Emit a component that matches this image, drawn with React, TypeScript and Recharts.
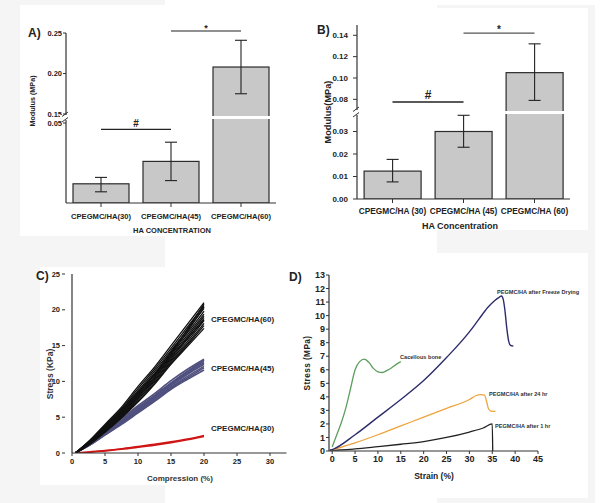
import React from 'react';
import { BarChart, Bar, XAxis, YAxis, ErrorBar, ReferenceLine, LineChart, Line } from 'recharts';

const FONT = "'Liberation Sans', Arial, Helvetica, sans-serif";
const INK = '#222';
const AXIS = '#333';

// ---------------- Panel A (Modulus, broken axis)
const catsA = ['CPEGMC/HA(30)', 'CPEGMC/HA(45)', 'CPEGMC/HA(60)'];
const meanA = [0.012, 0.026, 0.208];
const errLowA = [0.007, 0.014, 0.175];
const errHighA = [0.016, 0.038, 0.241];
const ticksA = [0.05, 0.15, 0.2, 0.25];

// ---------------- Panel B (Modulus, broken axis)
const catsB = ['CPEGMC/HA (30)', 'CPEGMC/HA (45)', 'CPEGMC/HA (60)'];
const meanB = [0.0124, 0.03, 0.105];
const errLowB = [0.0076, 0.023, 0.079];
const errHighB = [0.0176, 0.0372, 0.132];
const ticksB = [0, 0.01, 0.02, 0.03, 0.08, 0.1, 0.12, 0.14];

// ---------------- Panel C (cyclic compression curves)
const compC = [0.5, 2.5, 5, 7.5, 10, 12.5, 15, 17.5, 20];
const runs60 = [
  [0, 1.6, 4.0, 6.4, 9.3, 12.0, 15.0, 18.0, 21.0],
  [0, 1.55, 3.85, 6.2, 9.0, 11.7, 14.6, 17.6, 20.6],
  [0, 1.5, 3.7, 6.0, 8.7, 11.4, 14.3, 17.2, 20.2],
  [0, 1.45, 3.6, 5.8, 8.5, 11.1, 14.0, 16.8, 19.8],
  [0, 1.4, 3.5, 5.65, 8.3, 10.9, 13.7, 16.5, 19.4],
  [0, 1.35, 3.4, 5.5, 8.1, 10.6, 13.4, 16.2, 19.1],
  [0, 1.3, 3.3, 5.4, 7.9, 10.4, 13.2, 15.9, 18.8],
  [0, 1.25, 3.2, 5.25, 7.7, 10.2, 13.0, 15.6, 18.5],
  [0, 1.2, 3.1, 5.1, 7.5, 10.0, 12.8, 15.3, 18.1],
  [0, 1.15, 3.0, 5.0, 7.3, 9.8, 12.6, 15.1, 17.8],
  [0, 1.1, 2.9, 4.9, 7.1, 9.6, 12.4, 14.9, 17.4],
  [0, 1.15, 3.0, 5.1, 7.8, 10.6, 13.8, 17.0, 20.4],
  [0, 1.55, 3.8, 6.0, 8.4, 10.9, 13.5, 16.0, 18.6],
  [0, 1.2, 3.2, 5.5, 8.2, 11.0, 14.1, 17.3, 20.8],
];
const runs45 = [
  [0, 1.3, 3.2, 4.8, 6.6, 8.3, 10.1, 11.7, 13.1],
  [0, 1.25, 3.05, 4.6, 6.4, 8.05, 9.8, 11.4, 12.8],
  [0, 1.2, 2.9, 4.45, 6.2, 7.85, 9.6, 11.2, 12.6],
  [0, 1.15, 2.8, 4.3, 6.0, 7.65, 9.4, 11.0, 12.4],
  [0, 1.1, 2.7, 4.2, 5.85, 7.5, 9.2, 10.7, 12.1],
  [0, 1.05, 2.6, 4.1, 5.7, 7.3, 9.05, 10.5, 11.9],
  [0, 1.0, 2.5, 4.0, 5.6, 7.2, 8.9, 10.3, 11.6],
  [0, 1.0, 2.6, 4.3, 6.1, 7.9, 9.7, 11.4, 13.0],
];
const runs30 = [
  [0, 0.15, 0.35, 0.6, 0.9, 1.2, 1.55, 1.95, 2.45],
  [0, 0.1, 0.3, 0.52, 0.8, 1.1, 1.45, 1.85, 2.3],
];
const ticksCx = [0, 5, 10, 15, 20, 25, 30];
const ticksCy = [0, 5, 10, 15, 20, 25];

// ---------------- Panel D (stress-strain)
const boneX = [0, 1, 2, 3, 4, 5, 6, 7, 8, 9, 10, 11, 12, 13, 14, 15];
const boneY = [0.3, 1.2, 2.1, 3.2, 4.6, 6.0, 6.6, 6.78, 6.55, 6.1, 5.85, 5.8, 5.95, 6.15, 6.4, 6.6];
const freezeX = [-0.5, 0, 5, 10, 15, 20, 25, 30, 32, 34, 35.5, 36.5, 37, 37.4, 37.8, 38.2, 38.6, 39, 39.6];
const freezeY = [0.05, 0.1, 1.2, 2.5, 3.8, 5.2, 6.9, 8.8, 9.7, 10.6, 11.1, 11.35, 11.45, 11.2, 10.3, 9.0, 8.1, 7.8, 7.75];
const h24X = [-0.5, 0, 5, 10, 15, 20, 25, 30, 31.5, 32.5, 33.3, 33.8, 34.2, 34.7, 35.7];
const h24Y = [0.03, 0.08, 0.6, 1.2, 1.85, 2.5, 3.15, 3.8, 4.1, 4.17, 4.12, 3.6, 3.1, 2.95, 2.92];
const h1X = [-0.5, 0, 5, 10, 15, 20, 25, 30, 33, 35, 35.1];
const h1Y = [0.08, 0.06, 0.15, 0.32, 0.5, 0.7, 1.0, 1.4, 1.7, 2.0, 0];
const ticksDx = [0, 5, 10, 15, 20, 25, 30, 35, 40, 45];
const ticksDy = [0, 1, 2, 3, 4, 5, 6, 7, 8, 9, 10, 11, 12, 13];

// broken-axis transforms (value -> axis units)
const brkA = (v: number) => (v <= 0.05 ? v * 1600 : 89 + (v - 0.15) * 810);
const BREAK_A = 85.5;
const brkB = (v: number) => (v <= 0.0375 ? v * 2250 : 89 + (v - 0.07) * 1067);
const BREAK_B = 86.5;

const dataA = catsA.map((c, i) => ({
  cat: c,
  v: brkA(meanA[i]),
  err: [brkA(meanA[i]) - brkA(errLowA[i]), brkA(errHighA[i]) - brkA(meanA[i])],
}));
const dataB = catsB.map((c, i) => ({
  cat: c,
  v: brkB(meanB[i]),
  err: [brkB(meanB[i]) - brkB(errLowB[i]), brkB(errHighB[i]) - brkB(meanB[i])],
}));

const toXY = (xs: number[], ys: number[]) => xs.map((x, i) => ({ x, y: ys[i] }));

function makeBreakTick(
  tickVals: number[],
  brk: (v: number) => number,
  breakAt: number,
  off: number,
  fontSize: number
) {
  return (props: any) => {
    const { x, y, payload } = props;
    const ax = x + off;
    if (Math.abs(payload.value - breakAt) < 1e-6) {
      return (
        <g>
          <rect x={ax - 6} y={y - 2.5} width={9} height={5} fill="#fff" />
          <line x1={ax - 4} y1={y - 1} x2={ax + 2} y2={y - 5.5} stroke={AXIS} strokeWidth={1} />
          <line x1={ax - 4} y1={y + 4.5} x2={ax + 2} y2={y} stroke={AXIS} strokeWidth={1} />
        </g>
      );
    }
    const t = tickVals.find((tv) => Math.abs(brk(tv) - payload.value) < 1e-6);
    return (
      <text x={x} y={y} dy="0.35em" textAnchor="end" fontSize={fontSize} fontWeight={700} fill={INK} fontFamily={FONT}>
        {t !== undefined ? t.toFixed(2) : ''}
      </text>
    );
  };
}

function makeBreakBar(breakAt: number) {
  return (props: any) => {
    const { x, y, width, height, payload } = props;
    const bottom = y + height;
    const yb = bottom - height * (breakAt / payload.v);
    return (
      <g>
        <rect x={x} y={y} width={width} height={height} fill="#c8c8c8" stroke="#2b2b2b" strokeWidth={1.2} />
        {payload.v > breakAt && (
          <line x1={x - 1} x2={x + width + 1} y1={yb} y2={yb} stroke="#fff" strokeWidth={3} />
        )}
      </g>
    );
  };
}

const CTick = (props: any) => {
  const { x, y, payload } = props;
  return (
    <g>
      <line x1={x - 10} x2={x - 7} y1={y} y2={y} stroke={AXIS} strokeWidth={1} />
      <text x={x - 12} y={y} dy="0.35em" textAnchor="end" fontSize={7.5} fontWeight={700} fill={INK} fontFamily={FONT}>
        {payload.value}
      </text>
    </g>
  );
};

const annoStyle = { fontWeight: 700, fill: INK, fontFamily: FONT };

export default function App() {
  const bg = '#f5f5f5';
  return (
    <div style={{ position: 'absolute', left: 0, top: 0, width: 600, height: 503, background: '#fff', overflow: 'hidden', fontFamily: FONT }}>
      {/* faint scan backgrounds */}
      <div style={{ position: 'absolute', left: 0, top: 0, width: 165, height: 503, background: bg }} />
      <div style={{ position: 'absolute', left: 437, top: 5, width: 158, height: 498, background: bg }} />
      <div style={{ position: 'absolute', left: 20, top: 5, width: 276, height: 231, background: '#fff' }} />
      <div style={{ position: 'absolute', left: 40, top: 267, width: 260, height: 218, background: '#fff' }} />
      <div style={{ position: 'absolute', left: 300, top: 8, width: 288, height: 222, background: '#fff' }} />
      <div style={{ position: 'absolute', left: 300, top: 253, width: 288, height: 245, background: '#fff' }} />

      {/* Panel A */}
      <div style={{ position: 'absolute', left: 0, top: 0 }}>
        <BarChart width={290} height={240} data={dataA} margin={{ top: 33, right: 14, bottom: 3, left: 26 }} barCategoryGap="10%">
          <XAxis
            dataKey="cat"
            height={34}
            tickSize={4}
            tickMargin={7}
            interval={0}
            axisLine={{ stroke: AXIS, strokeWidth: 1.2 }}
            tickLine={{ stroke: AXIS }}
            tick={{ fontSize: 7.6, fontWeight: 700, fill: INK, fontFamily: FONT }}
          />
          <YAxis
            type="number"
            domain={[0, 170]}
            allowDataOverflow
            ticks={[...ticksA.map(brkA), BREAK_A]}
            interval={0}
            width={40}
            tickSize={3}
            tickMargin={1}
            axisLine={{ stroke: AXIS, strokeWidth: 1.2 }}
            tickLine={{ stroke: AXIS }}
            tick={makeBreakTick(ticksA, brkA, BREAK_A, 4, 7.5)}
          />
          <Bar dataKey="v" isAnimationActive={false} shape={makeBreakBar(BREAK_A)}>
            <ErrorBar dataKey="err" width={6} stroke={INK} strokeWidth={1.1} />
          </Bar>
          <ReferenceLine
            segment={[{ x: catsA[0], y: brkA(0.046) }, { x: catsA[1], y: brkA(0.046) }]}
            stroke={INK}
            strokeWidth={1.1}
            ifOverflow="visible"
            label={{ value: '#', position: 'top', offset: 2, fontSize: 10, ...annoStyle }}
          />
          <ReferenceLine
            segment={[{ x: catsA[1], y: brkA(0.2525) }, { x: catsA[2], y: brkA(0.2525) }]}
            stroke={INK}
            strokeWidth={1.1}
            ifOverflow="visible"
            label={{ value: '*', position: 'top', offset: 0, fontSize: 9, ...annoStyle }}
          />
        </BarChart>
      </div>

      {/* Panel B */}
      <div style={{ position: 'absolute', left: 300, top: 0 }}>
        <BarChart width={290} height={240} data={dataB} margin={{ top: 25, right: 20, bottom: 3, left: 17 }} barCategoryGap="10%">
          <XAxis
            dataKey="cat"
            height={38}
            tickSize={4}
            tickMargin={5}
            interval={0}
            axisLine={{ stroke: AXIS, strokeWidth: 1.2 }}
            tickLine={{ stroke: AXIS }}
            tick={{ fontSize: 8.3, fontWeight: 700, fill: INK, fontFamily: FONT }}
          />
          <YAxis
            type="number"
            domain={[0, 174]}
            allowDataOverflow
            ticks={[...ticksB.map(brkB), BREAK_B]}
            interval={0}
            width={40}
            tickSize={4}
            tickMargin={5}
            axisLine={{ stroke: AXIS, strokeWidth: 1.2 }}
            tickLine={{ stroke: AXIS }}
            tick={makeBreakTick(ticksB, brkB, BREAK_B, 9, 8)}
          />
          <Bar dataKey="v" isAnimationActive={false} shape={makeBreakBar(BREAK_B)}>
            <ErrorBar dataKey="err" width={6} stroke={INK} strokeWidth={1.1} />
          </Bar>
          <ReferenceLine
            segment={[{ x: catsB[0], y: brkB(0.0775) }, { x: catsB[1], y: brkB(0.0775) }]}
            stroke={INK}
            strokeWidth={1.3}
            ifOverflow="visible"
            label={{ value: '#', position: 'top', offset: 3, fontSize: 12, ...annoStyle }}
          />
          <ReferenceLine
            segment={[{ x: catsB[1], y: brkB(0.142) }, { x: catsB[2], y: brkB(0.142) }]}
            stroke="#555"
            strokeWidth={1.3}
            ifOverflow="visible"
            label={{ value: '*', position: 'top', offset: 0, fontSize: 10, ...annoStyle }}
          />
        </BarChart>
      </div>

      {/* Panel C */}
      <div style={{ position: 'absolute', left: 0, top: 250 }}>
        <LineChart width={300} height={253} margin={{ top: 24, right: 13.5, bottom: 20, left: 32 }}>
          <XAxis
            type="number"
            dataKey="x"
            domain={[0, 32.5]}
            allowDataOverflow
            ticks={ticksCx}
            interval={0}
            height={30}
            tickSize={3}
            tickMargin={3}
            axisLine={{ stroke: AXIS, strokeWidth: 1.2 }}
            tickLine={{ stroke: AXIS }}
            tick={{ fontSize: 7.5, fontWeight: 700, fill: INK, fontFamily: FONT }}
          />
          <YAxis
            type="number"
            domain={[0, 25]}
            allowDataOverflow
            ticks={ticksCy}
            interval={0}
            width={40}
            tickSize={0}
            tickMargin={0}
            tickLine={false}
            axisLine={{ stroke: AXIS, strokeWidth: 1.2 }}
            tick={CTick}
          />
          {runs30.map((r, k) => (
            <Line key={'r' + k} data={toXY(compC, r)} dataKey="y" type="monotone" stroke="#d01515" strokeWidth={1.6} dot={false} isAnimationActive={false} />
          ))}
          {runs45.map((r, k) => (
            <Line key={'u' + k} data={toXY(compC, r)} dataKey="y" type="monotone" stroke="#50507f" strokeWidth={1.6} dot={false} isAnimationActive={false} />
          ))}
          {runs60.map((r, k) => (
            <Line key={'b' + k} data={toXY(compC, r)} dataKey="y" type="monotone" stroke="#111" strokeWidth={1.3} dot={false} isAnimationActive={false} />
          ))}
        </LineChart>
      </div>

      {/* Panel D */}
      <div style={{ position: 'absolute', left: 300, top: 250 }}>
        <LineChart width={300} height={253} margin={{ top: 25, right: 62, bottom: 22, left: 4 }}>
          <XAxis
            type="number"
            dataKey="x"
            domain={[-0.7, 45]}
            allowDataOverflow
            ticks={ticksDx}
            interval={0}
            height={30}
            tickSize={3}
            tickMargin={2}
            axisLine={{ stroke: AXIS, strokeWidth: 1.2 }}
            tickLine={{ stroke: AXIS }}
            tick={{ fontSize: 9, fontWeight: 700, fill: INK, fontFamily: FONT }}
          />
          <YAxis
            type="number"
            domain={[0, 13]}
            allowDataOverflow
            ticks={ticksDy}
            interval={0}
            width={25}
            tickSize={3}
            tickMargin={1}
            axisLine={{ stroke: AXIS, strokeWidth: 1.2 }}
            tickLine={{ stroke: AXIS }}
            tick={{ fontSize: 9, fontWeight: 700, fill: INK, fontFamily: FONT }}
          />
          <Line data={toXY(h1X, h1Y)} dataKey="y" type="monotone" stroke="#222" strokeWidth={1.3} dot={false} isAnimationActive={false} />
          <Line data={toXY(h24X, h24Y)} dataKey="y" type="monotone" stroke="#eea43c" strokeWidth={1.3} dot={false} isAnimationActive={false} />
          <Line data={toXY(freezeX, freezeY)} dataKey="y" type="monotone" stroke="#2c2c6c" strokeWidth={1.4} dot={false} isAnimationActive={false} />
          <Line data={toXY(boneX, boneY)} dataKey="y" type="monotone" stroke="#5d9f5d" strokeWidth={1.3} dot={false} isAnimationActive={false} />
        </LineChart>
      </div>

      {/* titles & labels */}
      <svg width={600} height={503} style={{ position: 'absolute', left: 0, top: 0, pointerEvents: 'none' }} fontFamily={FONT} fontWeight={700} fill={INK}>
        <text x={28} y={37} fontSize={12}>A)</text>
        <text x={317} y={34} fontSize={12}>B)</text>
        <text x={36} y={280} fontSize={12}>C)</text>
        <text x={289} y={281} fontSize={12}>D)</text>

        <text x={35} y={101} fontSize={7.2} textAnchor="middle" transform="rotate(-90 35 101)">Modulus (MPa)</text>
        <text x={172} y={233} fontSize={7.5} textAnchor="middle">HA CONCENTRATION</text>

        <text x={331} y={112} fontSize={9.2} textAnchor="middle" transform="rotate(-90 331 112)">Modulus(MPa)</text>
        <text x={460} y={229} fontSize={9} textAnchor="middle">HA Concentration</text>

        <text x={53} y={374} fontSize={8.5} textAnchor="middle" transform="rotate(-90 53 374)" fill="#333">Stress (KPa)</text>
        <text x={180} y={481} fontSize={8} textAnchor="middle" fill="#333">Compression (%)</text>
        <text x={211} y={322} fontSize={8}>CPEGMC/HA(60)</text>
        <text x={211} y={371} fontSize={8}>CPEGMC/HA(45)</text>
        <text x={211} y={431} fontSize={8}>CPEGMC/HA(30)</text>

        <text x={310} y={363} fontSize={8.3} textAnchor="middle" letterSpacing={0.4} transform="rotate(-90 310 363)">Stress (MPa)</text>
        <text x={434} y={479} fontSize={8.5} textAnchor="middle">Strain (%)</text>
        <text x={497} y={294} fontSize={5.6} fill="#333">PEGMC/HA after Freeze Drying</text>
        <text x={400} y={359} fontSize={5.6} fill="#333">Cacellous bone</text>
        <text x={489} y={396} fontSize={5.6} fill="#333">PEGMC/HA after 24 hr</text>
        <text x={495} y={428} fontSize={5.6} fill="#333">PEGMC/HA after 1 hr</text>
      </svg>
    </div>
  );
}
